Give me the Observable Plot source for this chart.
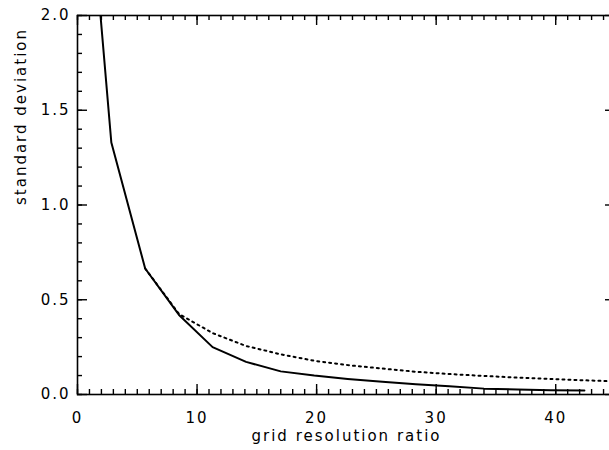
<!DOCTYPE html>
<html><head><meta charset="utf-8">
<script src="https://cdn.jsdelivr.net/npm/d3@7"></script>
<script src="https://cdn.jsdelivr.net/npm/@observablehq/plot@0.6"></script>
<style>html,body{margin:0;padding:0;background:#fff;overflow:hidden}</style>
</head><body><div id="chart"></div>
<script>
// Solid curve: measured standard deviation vs grid resolution ratio
const ratioSolid = [1.41, 2.83, 5.66, 8.49, 11.3, 14.1, 17.0, 19.8, 22.6, 25.5, 28.3, 31.1, 34.0, 36.8, 39.6, 42.4];
const sdSolid    = [2.38, 1.33, 0.665, 0.42, 0.25, 0.172, 0.122, 0.100, 0.082, 0.067, 0.054, 0.043, 0.031, 0.026, 0.023, 0.021];
// Dotted curve
const ratioDotted = [5.66, 8.49, 11.3, 14.1, 17.0, 19.8, 22.6, 25.5, 28.3, 31.1, 34.0, 36.8, 39.6, 42.4, 45.0];
const sdDotted    = [0.665, 0.425, 0.324, 0.256, 0.212, 0.178, 0.155, 0.137, 0.120, 0.108, 0.098, 0.089, 0.082, 0.075, 0.069];
// Ticks
const xMajorTicks = [0, 10, 20, 30, 40];
const xMinorTicks = d3.range(0, 46, 1);
const yMajorTicks = [0, 0.5, 1.0, 1.5, 2.0];
const yMinorTicks = d3.range(0, 21, 1).map(d => d / 10);
const xLabel = "grid resolution ratio";
const yLabel = "standard deviation";

const solid = ratioSolid.map((x, i) => ({x, y: sdSolid[i]}));
const dotted = ratioDotted.map((x, i) => ({x, y: sdDotted[i]}));

const W = 609, H = 450, mL = 77, mR = -6, mT = 15, mB = 56;
const frameW = W - mL - mR, frameH = H - mT - mB;
const majorLen = 10, minorLen = 5;
const tk = {stroke: "black", strokeWidth: 1.4};

const chart = Plot.plot({
  width: W,
  height: H,
  marginLeft: mL,
  marginRight: mR,
  marginTop: mT,
  marginBottom: mB,
  style: {fontFamily: "DejaVu Sans", fontSize: "15px", letterSpacing: "2px", background: "white", color: "black"},
  x: {domain: [0, 45]},
  y: {domain: [0, 2]},
  marks: [
    Plot.line(solid, {x: "x", y: "y", stroke: "black", strokeWidth: 2, clip: true}),
    Plot.line(dotted, {x: "x", y: "y", stroke: "black", strokeWidth: 2, strokeDasharray: "2,4", clip: true}),
    Plot.frame({stroke: "black", strokeWidth: 1.6}),
    // inward ticks: bottom
    Plot.ruleX(xMinorTicks, {x: d => d, insetTop: frameH - minorLen, ...tk}),
    Plot.ruleX(xMajorTicks, {x: d => d, insetTop: frameH - majorLen, ...tk}),
    // top
    Plot.ruleX(xMinorTicks, {x: d => d, insetBottom: frameH - minorLen, ...tk}),
    Plot.ruleX(xMajorTicks, {x: d => d, insetBottom: frameH - majorLen, ...tk}),
    // left
    Plot.ruleY(yMinorTicks, {y: d => d, insetRight: frameW - minorLen, ...tk}),
    Plot.ruleY(yMajorTicks, {y: d => d, insetRight: frameW - majorLen, ...tk}),
    // right
    Plot.ruleY(yMinorTicks, {y: d => d, insetLeft: frameW - minorLen, ...tk}),
    Plot.ruleY(yMajorTicks, {y: d => d, insetLeft: frameW - majorLen, ...tk}),
    // labels
    Plot.axisX(xMajorTicks, {anchor: "bottom", tickSize: 0, tickPadding: 18, tickFormat: d3.format("d"), label: null}),
    Plot.axisY(yMajorTicks, {anchor: "left", tickSize: 0, tickPadding: 7, tickFormat: d3.format(".1f"), label: null}),
    Plot.text([xLabel], {frameAnchor: "bottom", lineAnchor: "top", dy: 36, text: d => d, fill: "black"}),
    Plot.text([yLabel], {frameAnchor: "left", dx: -56, rotate: -90, text: d => d, fill: "black"})
  ]
});
document.getElementById("chart").appendChild(chart);
</script>
</body></html>
